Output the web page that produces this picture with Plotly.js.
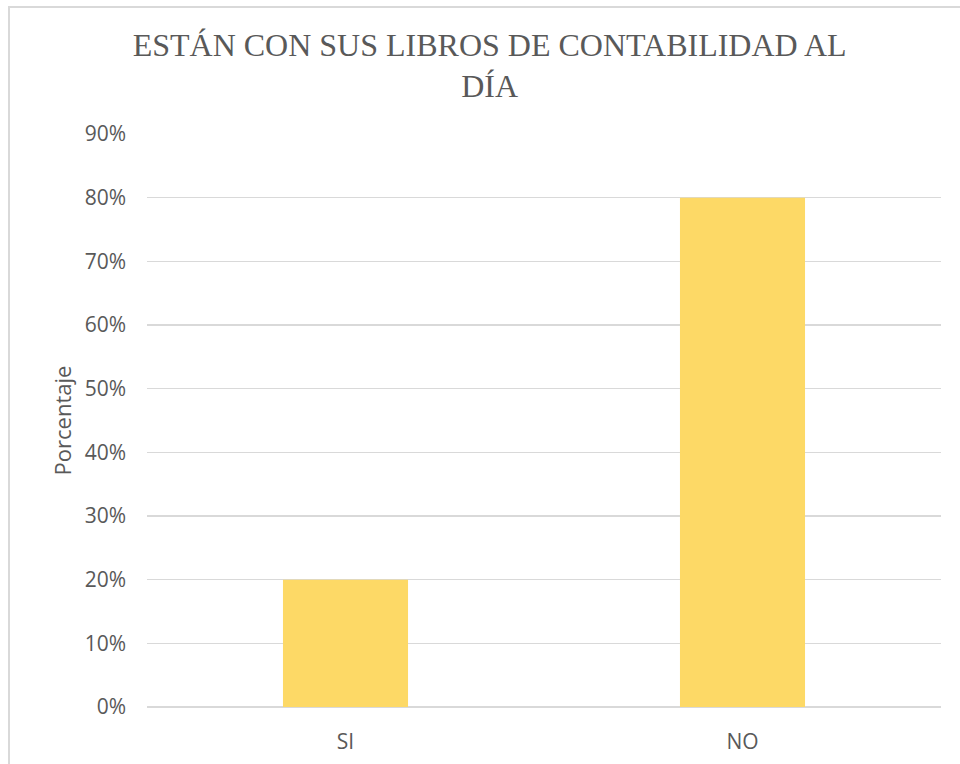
<!DOCTYPE html>
<html>
<head>
<meta charset="utf-8">
<script src="https://cdn.plot.ly/plotly-3.0.1.min.js"></script>
<style>
  html, body { margin: 0; padding: 0; background: #fff; overflow: hidden; }
  #chart { position: absolute; left: 0; top: 0; width: 960px; height: 764px; }
  #frame { position: absolute; left: 8px; top: 6px; width: 980px; height: 800px;
           border: 2px solid #d9d9d9; pointer-events: none; box-sizing: border-box; }
</style>
</head>
<body>
<div id="chart"></div>
<div id="frame"></div>
<script>
const categories = ["SI", "NO"];
const percentages = [0.20, 0.80];
const chartTitle = "ESTÁN CON SUS LIBROS DE CONTABILIDAD AL<br>DÍA";
const yAxisTitle = "Porcentaje";

const trace = {
  type: "bar",
  x: categories,
  y: percentages,
  marker: { color: "#FDD966" },
  hoverinfo: "x+y"
};

const layout = {
  width: 960,
  height: 764,
  paper_bgcolor: "#ffffff",
  plot_bgcolor: "#ffffff",
  margin: { l: 147, r: 19, t: 134, b: 57 },
  bargap: 0.685,
  showlegend: false,
  title: {
    text: chartTitle,
    font: { family: "Liberation Serif, Times New Roman, serif", size: 32, color: "#595959" },
    x: 0.51, xanchor: "center",
    y: 0.927, yanchor: "top"
  },
  xaxis: {
    type: "category",
    showgrid: false,
    showline: false,
    ticks: "",
    tickfont: { family: "Open Sans, sans-serif", size: 21, color: "#595959" },
    ticklabelstandoff: 20
  },
  yaxis: {
    range: [0, 0.9],
    dtick: 0.1,
    tickformat: ".0%",
    showgrid: true,
    gridcolor: "#d9d9d9",
    gridwidth: 1.5,
    zeroline: true,
    zerolinecolor: "#d9d9d9",
    zerolinewidth: 1.5,
    showline: false,
    ticks: "",
    ticklabelstandoff: 20,
    tickfont: { family: "Open Sans, sans-serif", size: 21, color: "#595959" },
    title: {
      text: yAxisTitle,
      font: { family: "Open Sans, sans-serif", size: 22, color: "#595959" },
      standoff: 6
    }
  }
};

Plotly.newPlot("chart", [trace], layout, { displayModeBar: false, staticPlot: true });
</script>
</body>
</html>
